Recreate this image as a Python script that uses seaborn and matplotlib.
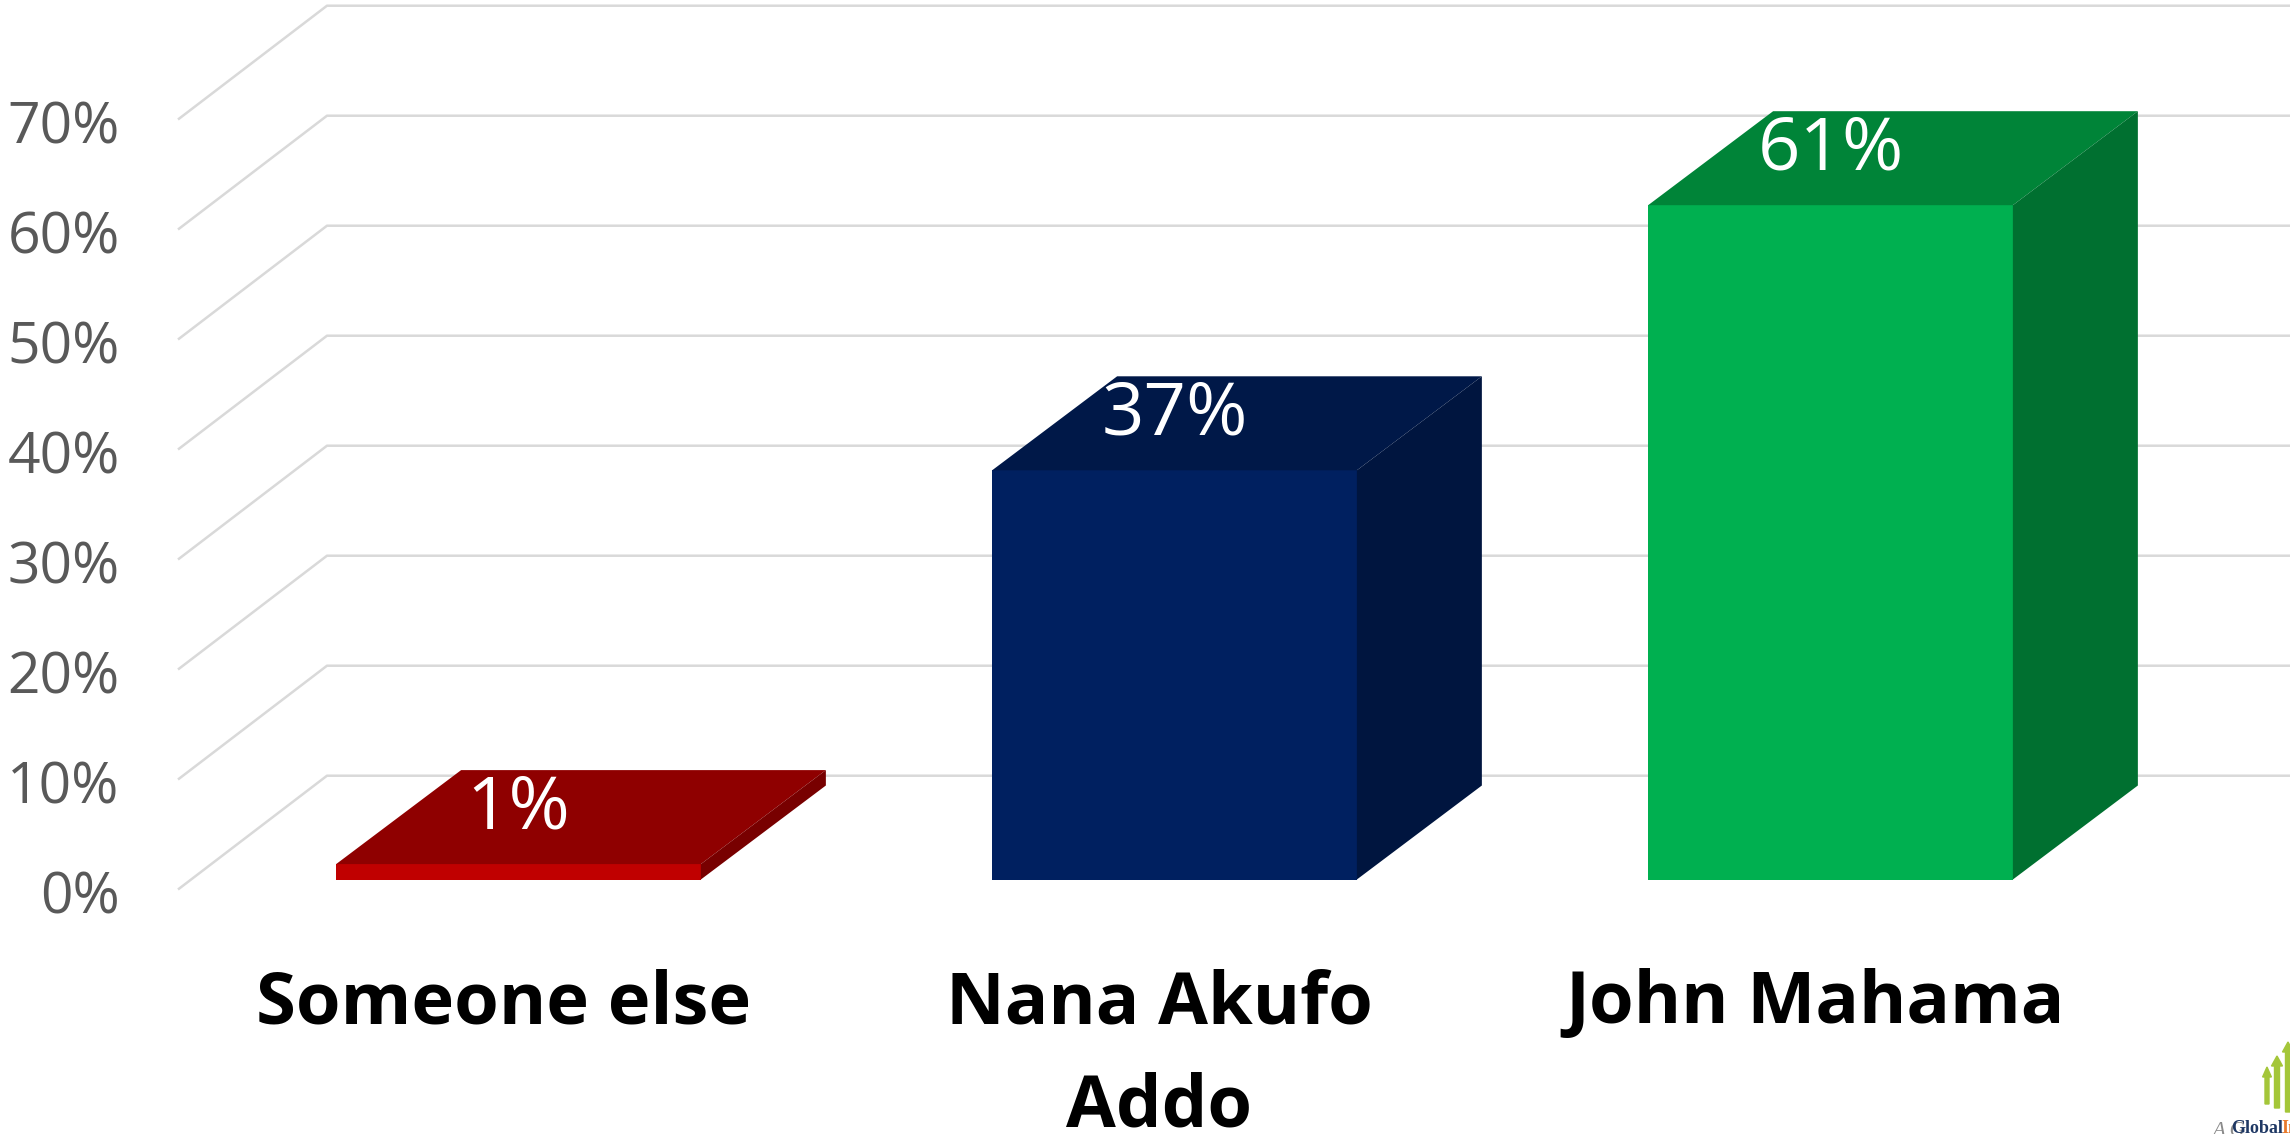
import matplotlib
matplotlib.use("Agg")
import matplotlib.pyplot as plt
from matplotlib.patches import Polygon, FancyArrow
from matplotlib.transforms import ScaledTranslation
import pandas as pd
import seaborn as sns

categories = ["Someone else", "Nana Akufo\nAddo", "John Mahama"]
values = [1.4, 37.2, 61.3]
ticks = [0, 10, 20, 30, 40, 50, 60, 70]
front_colors = ["#C00000", "#002060", "#00B050"]
top_colors = ["#8F0000", "#001848", "#008438"]
side_colors = ["#780000", "#00153F", "#007030"]

W, H = 2290, 1134
sns.set_theme(style="white")
plt.rcParams["font.family"] = ["Open Sans", "DejaVu Sans"]
fig = plt.figure(figsize=(W / 100, H / 100), dpi=100, facecolor="white")

# axes: left edge = front of wall, bottom = bar baseline, top = image top
base = 879.5
ax = fig.add_axes([178 / W, (H - base) / H, (W - 178) / W, base / H])
df = pd.DataFrame({"cat": categories, "val": values})
sns.barplot(data=df, x="cat", y="val", hue="cat", palette=front_colors, order=categories,
            hue_order=categories, dodge=False, legend=False, width=0.556, saturation=1,
            linewidth=0, ax=ax, zorder=3)
px_x = 656.0
px_y = 11.0
ax.set_xlim((178 - 518.5) / px_x, (W - 518.5) / px_x)
ax.set_ylim(0, base / px_y)
ax.set_xlabel("")
ax.set_ylabel("")
for s in ax.spines.values():
    s.set_visible(False)

# 3D depth of bars
dx, dy = 125 / px_x, 94 / px_y
for patch, top, side, v in zip(ax.patches, top_colors, side_colors, values):
    x0, x1, h = patch.get_x(), patch.get_x() + patch.get_width(), patch.get_height()
    ax.add_patch(Polygon([(x0, h), (x1, h), (x1 + dx, h + dy), (x0 + dx, h + dy)],
                         closed=True, fc=top, ec="none", zorder=3))
    ax.add_patch(Polygon([(x1, 0), (x1, h), (x1 + dx, h + dy), (x1 + dx, dy)],
                         closed=True, fc=side, ec="none", zorder=3))
    ax.annotate(f"{v:.0f}%", xy=((x0 + x1) / 2, h), xytext=(0, 55 * 0.72), textcoords="offset points",
                ha="center", va="center", color="white", fontsize=53.5, zorder=5)

# wall and floor grid lines
x_front = ax.get_xlim()[0]
x_back = x_front + 149 / px_x
x_end = ax.get_xlim()[1]
for t in ticks:
    ax.plot([x_front, x_back, x_end],
            [t - 10 / px_y, t + 103.8 / px_y, t + 103.8 / px_y],
            color="#D9D9D9", lw=1.8, zorder=1, clip_on=False, solid_capstyle="butt")

# ticks
ax.set_yticks(ticks)
ax.set_yticklabels([f"{t}%" for t in ticks])
ax.tick_params(axis="y", length=0, pad=42, labelsize=41, labelcolor="#595959")
off_y = ScaledTranslation(0, -12 / 100, fig.dpi_scale_trans)
for lab in ax.get_yticklabels():
    lab.set_transform(lab.get_transform() + off_y)

ax.tick_params(axis="x", length=0, pad=64, labelsize=52, labelcolor="black")
off_x = ScaledTranslation(-15 / 100, 0, fig.dpi_scale_trans)
for lab in ax.get_xticklabels():
    lab.set_fontweight("bold")
    lab.set_linespacing(1.56)
    lab.set_transform(lab.get_transform() + off_x)

# small logo, cropped at the corner
def fx(p): return p / W
def fy(p): return (H - p) / H
for xp, ytop, ybot, wd in [(2267, 1067, 1104, 4), (2277, 1056, 1108, 5), (2288, 1042, 1112, 5)]:
    fig.add_artist(FancyArrow(xp, H - ybot, 0, ybot - ytop, width=wd, head_width=wd * 2.2,
                              head_length=10, length_includes_head=True, color="#A4C639",
                              transform=None))
fig.text(fx(2212), fy(1136), "A G", family="Liberation Serif", style="italic", fontsize=15,
         color="#8A8A8A", va="baseline")
fig.text(fx(2231), fy(1133), "Global", family="Liberation Serif", weight="bold", fontsize=13,
         color="#1F3864", va="baseline")
fig.text(fx(2281), fy(1133), "In", family="Liberation Serif", weight="bold", fontsize=13,
         color="#E8792B", va="baseline")

fig.savefig("out.png", dpi=100, facecolor="white")
